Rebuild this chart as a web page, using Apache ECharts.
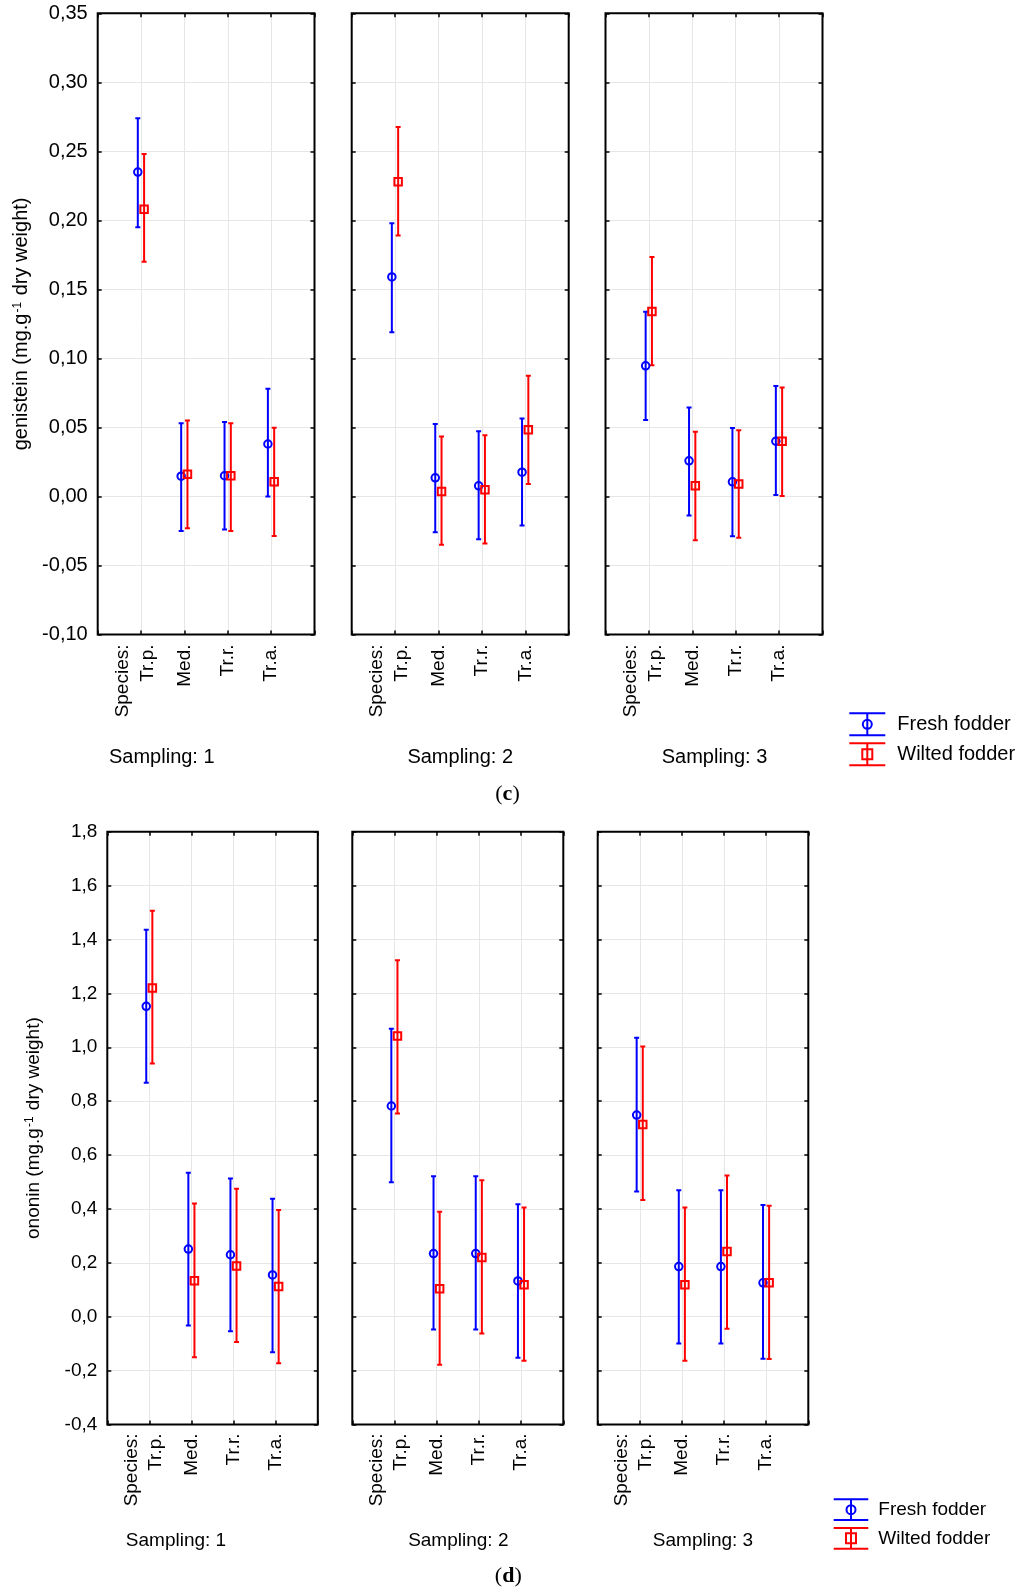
<!DOCTYPE html>
<html><head><meta charset="utf-8">
<script src="https://cdn.jsdelivr.net/npm/echarts@6/dist/echarts.min.js"></script>
<style>html,body{margin:0;padding:0;background:#fff}#chart{width:1024px;height:1594px}</style>
</head><body><div id="chart"></div>
<script>
// ---------- data ----------
const species = ['Tr.p.', 'Med.', 'Tr.r.', 'Tr.a.'];
const speciesTitle = 'Species:';
const samplings = ['Sampling: 1', 'Sampling: 2', 'Sampling: 3'];
const seriesNames = ['Fresh fodder', 'Wilted fodder'];

// (c) genistein — rows: sampling 1..3, columns: species
const genisteinAxis = [-0.10, 0.35, 0.05];
const genFreshMean = [[0.235, 0.0147, 0.015, 0.038], [0.159, 0.0135, 0.0077, 0.0176], [0.0946, 0.0258, 0.0106, 0.040]];
const genFreshLow  = [[0.195, -0.025, -0.024, 0.000], [0.119, -0.026, -0.031, -0.021], [0.0553, -0.0138, -0.0288, 0.001]];
const genFreshHigh = [[0.274, 0.053, 0.054, 0.078], [0.198, 0.0524, 0.0473, 0.0565], [0.1338, 0.0645, 0.0495, 0.080]];
const genWiltMean  = [[0.208, 0.016, 0.015, 0.0106], [0.228, 0.0036, 0.0048, 0.0483], [0.134, 0.0077, 0.0091, 0.040]];
const genWiltLow   = [[0.170, -0.023, -0.025, -0.0286], [0.189, -0.035, -0.034, 0.009], [0.095, -0.0317, -0.030, 0.0004]];
const genWiltHigh  = [[0.248, 0.055, 0.053, 0.0497], [0.2676, 0.0435, 0.0444, 0.0874], [0.1734, 0.0468, 0.048, 0.079]];

// (d) ononin
const ononinAxis = [-0.4, 1.8, 0.2];
const onoFreshMean = [[1.152, 0.251, 0.230, 0.155], [0.782, 0.2345, 0.2345, 0.133], [0.7485, 0.186, 0.186, 0.126]];
const onoFreshLow  = [[0.868, -0.033, -0.054, -0.132], [0.499, -0.0475, -0.0475, -0.152], [0.465, -0.099, -0.099, -0.156]];
const onoFreshHigh = [[1.436, 0.534, 0.513, 0.438], [1.069, 0.521, 0.521, 0.417], [1.035, 0.469, 0.469, 0.415]];
const onoWiltMean  = [[1.22, 0.1335, 0.188, 0.1125], [1.042, 0.104, 0.22, 0.1185], [0.713, 0.1185, 0.242, 0.126]];
const onoWiltLow   = [[0.940, -0.150, -0.094, -0.173], [0.754, -0.178, -0.062, -0.1635], [0.433, -0.1635, -0.0445, -0.157]];
const onoWiltHigh  = [[1.507, 0.420, 0.475, 0.396], [1.323, 0.390, 0.506, 0.405], [1.0025, 0.405, 0.524, 0.412]];

// ---------- layout / style ----------
const FONT = 'Liberation Sans, Arial, sans-serif';
const BLUE = '#0000ff', RED = '#ff0000';
const panels = [
  {
    yName: 'genistein (mg.g{sup|-1} dry weight)', axis: genisteinAxis, dec: 2,
    fresh: [genFreshMean, genFreshLow, genFreshHigh], wilt: [genWiltMean, genWiltLow, genWiltHigh],
    top: 13.3, height: 621.2, lefts: [97.7, 351.7, 605.5], widths: [216.8, 217, 217],
    yFont: 20, xFont: 19, nameFont: 20, nameGap: 66, xMargin: 10,
    sampX: [161.8, 460.2, 714.5], sampY: 757, sampFont: 20,
    tag: 'c', tagX: 507.5, tagY: 794,
    legend: { left: 848.3, top: 712.3, w: 36, h: 22, gap: 6, textPad: 7, font: 20 }
  },
  {
    yName: 'ononin (mg.g{sup|-1} dry weight)', axis: ononinAxis, dec: 1,
    fresh: [onoFreshMean, onoFreshLow, onoFreshHigh], wilt: [onoWiltMean, onoWiltLow, onoWiltHigh],
    top: 831.7, height: 592.8, lefts: [107.3, 352.3, 597.7], widths: [210.5, 211, 210.6],
    yFont: 19, xFont: 19, nameFont: 19, nameGap: 64, xMargin: 9,
    sampX: [176, 458.3, 703], sampY: 1540.7, sampFont: 19,
    tag: 'd', tagX: 508.3, tagY: 1576.7,
    legend: { left: 832.7, top: 1498.3, w: 34.6, h: 20.7, gap: 6, textPad: 5, font: 19 }
  }
];
const labelValues = [0.58, 1.15, 2, 3, 4];
const labelTexts = [speciesTitle].concat(species);
const OFF_FRESH = -0.075, OFF_WILT = 0.07;

function xLabel(v) {
  for (let i = 0; i < labelValues.length; i++) {
    if (Math.abs(labelValues[i] - v) < 1e-6) return labelTexts[i];
  }
  return '';
}

function errRender(color) {
  return function (params, api) {
    const x = api.value(0);
    const a = api.coord([x, api.value(1)]);
    const b = api.coord([x, api.value(2)]);
    const c = 2.5;
    const st = { stroke: color, lineWidth: 2 };
    return { type: 'group', children: [
      { type: 'line', shape: { x1: a[0], y1: a[1], x2: b[0], y2: b[1] }, style: st },
      { type: 'line', shape: { x1: a[0] - c, y1: a[1], x2: a[0] + c, y2: a[1] }, style: st },
      { type: 'line', shape: { x1: b[0] - c, y1: b[1], x2: b[0] + c, y2: b[1] }, style: st }
    ] };
  };
}

const grid = [], xAxis = [], yAxis = [], series = [], legend = [], graphic = [];
const tick = { show: true, inside: true, length: 4, lineStyle: { color: '#000', width: 1.5 } };
const split = { show: true, lineStyle: { color: '#e6e6e6', width: 1 } };
const noLine = { show: false, onZero: false };

panels.forEach((P, p) => {
  const fmt = v => (Math.abs(v) < 1e-9 ? 0 : v).toFixed(P.dec).replace('.', ',');
  for (let s = 0; s < 3; s++) {
    const g = grid.length;
    grid.push({ left: P.lefts[s], top: P.top, width: P.widths[s], height: P.height,
      show: true, borderColor: '#000', borderWidth: 2, backgroundColor: 'transparent', z: 3 });
    xAxis.push({ gridIndex: g, type: 'value', position: 'bottom', min: 0, max: 5, interval: 1,
      axisLine: noLine, axisTick: tick, splitLine: split,
      axisLabel: { show: true, rotate: 90, margin: P.xMargin, fontSize: P.xFont, fontFamily: FONT, color: '#000',
        customValues: labelValues, formatter: xLabel } });
    xAxis.push({ gridIndex: g, type: 'value', position: 'top', min: 0, max: 5, interval: 1,
      axisLine: noLine, axisTick: tick, splitLine: { show: false }, axisLabel: { show: false } });
    const yl = { gridIndex: g, type: 'value', position: 'left', min: P.axis[0], max: P.axis[1], interval: P.axis[2],
      axisLine: noLine, axisTick: tick, splitLine: split,
      axisLabel: { show: s === 0, margin: 10, fontSize: P.yFont, fontFamily: FONT, color: '#000', formatter: fmt } };
    if (s === 0) {
      Object.assign(yl, { name: P.yName, nameLocation: 'middle', nameRotate: 90, nameGap: P.nameGap,
        nameTextStyle: { fontSize: P.nameFont, fontFamily: FONT, color: '#000',
          rich: { sup: { fontSize: 12, fontFamily: FONT, color: '#000', verticalAlign: 'top', padding: [0, 1, 8, 1] } } } });
    }
    yAxis.push(yl);
    yAxis.push({ gridIndex: g, type: 'value', position: 'right', min: P.axis[0], max: P.axis[1], interval: P.axis[2],
      axisLine: noLine, axisTick: tick, splitLine: { show: false }, axisLabel: { show: false } });

    const xi = g * 2, yi = g * 2;
    const groups = [[P.fresh, OFF_FRESH, BLUE, 'circle'], [P.wilt, OFF_WILT, RED, 'rect']];
    groups.forEach(([arr, off, color, sym], k) => {
      const mean = arr[0][s], low = arr[1][s], high = arr[2][s];
      series.push({ type: 'custom', name: seriesNames[k], xAxisIndex: xi, yAxisIndex: yi, z: 5, clip: true,
        renderItem: errRender(color), encode: { x: 0, y: [1, 2] },
        data: species.map((sp, i) => [i + 1 + off, low[i], high[i]]) });
      series.push({ type: 'scatter', name: seriesNames[k], xAxisIndex: xi, yAxisIndex: yi, z: 6,
        symbol: sym, symbolSize: 7.5, silent: true,
        itemStyle: { color: 'rgba(0,0,0,0)', borderColor: color, borderWidth: 2, opacity: 1 },
        data: species.map((sp, i) => [i + 1 + off, mean[i]]) });
    });

    graphic.push({ type: 'text', x: P.sampX[s], y: P.sampY, silent: true,
      style: { text: samplings[s], fontSize: P.sampFont, fontFamily: FONT, fill: '#000', align: 'center', verticalAlign: 'middle' } });
  }
  graphic.push({ type: 'text', x: P.tagX, y: P.tagY, silent: true,
    style: { text: '{n|(}{b|' + P.tag + '}{n|)}', align: 'center', verticalAlign: 'middle',
      rich: { n: { fontSize: 22, fontFamily: 'Liberation Serif, serif', fill: '#000' },
              b: { fontSize: 22, fontFamily: 'Liberation Serif, serif', fontWeight: 'bold', fill: '#000' } } } });

  const L = P.legend;
  const W = L.w, H = L.h, cx = W / 2, cy = H / 2;
  const circ = 'path://M0,0H' + W + 'M0,' + H + 'H' + W + 'M' + cx + ',0V' + H +
    'M' + (cx - 4.5) + ',' + cy + 'A4.5,4.5,0,1,1,' + (cx + 4.5) + ',' + cy + 'A4.5,4.5,0,1,1,' + (cx - 4.5) + ',' + cy;
  const sq = 'path://M0,0H' + W + 'M0,' + H + 'H' + W + 'M' + cx + ',0V' + H +
    'M' + (cx - 5) + ',' + (cy - 5) + 'H' + (cx + 5) + 'V' + (cy + 5) + 'H' + (cx - 5) + 'Z';
  legend.push({ left: L.left, top: L.top, orient: 'vertical', padding: 0, itemGap: L.gap,
    itemWidth: W, itemHeight: H, selectedMode: false,
    textStyle: { fontSize: L.font, fontFamily: FONT, color: '#000', padding: [0, 0, 0, L.textPad] },
    data: [
      { name: seriesNames[0], icon: circ, itemStyle: { color: 'rgba(0,0,0,0)', borderColor: BLUE, borderWidth: 2 } },
      { name: seriesNames[1], icon: sq, itemStyle: { color: 'rgba(0,0,0,0)', borderColor: RED, borderWidth: 2 } }
    ] });
});

const chart = echarts.init(document.getElementById('chart'), null, { renderer: 'canvas' });
chart.setOption({ backgroundColor: '#fff', animation: false, textStyle: { fontFamily: FONT },
  grid, xAxis, yAxis, series, legend, graphic });
</script></body></html>
